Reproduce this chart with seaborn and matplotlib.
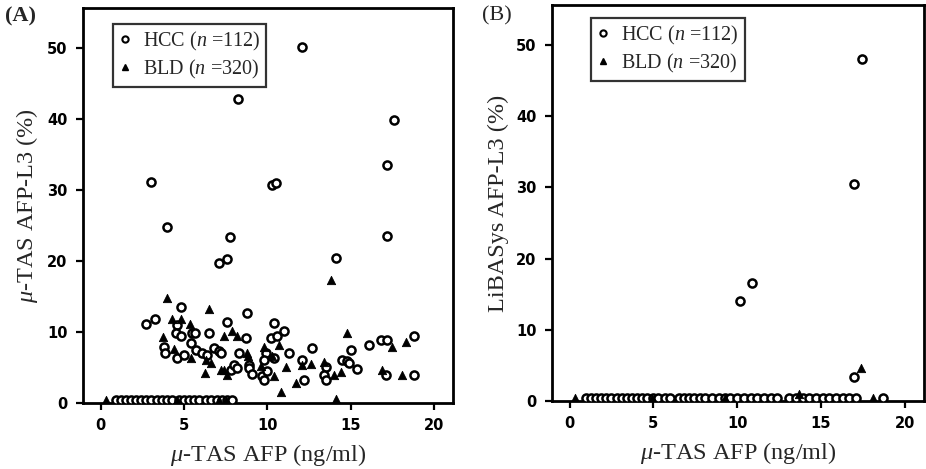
import numpy as np
import pandas as pd
import matplotlib
matplotlib.use("Agg")
import matplotlib.pyplot as plt
import seaborn as sns
from matplotlib.lines import Line2D

# ---------------- data ----------------
# Panel A: mu-TAS AFP (x) vs mu-TAS AFP-L3 (y)
a_hcc_x = [3.0, 3.96, 7.75, 8.25, 10.3, 10.5, 12.1, 17.2, 17.6, 17.2,
           7.1, 7.57, 14.1, 4.8, 8.8, 2.7, 3.25, 4.57, 4.5, 4.8, 5.47, 5.67,
           6.5, 7.6, 8.7, 3.8, 3.87, 4.6, 5.0, 5.4, 5.7, 6.1, 6.4, 6.8, 7.1,
           7.2, 7.8, 8.0, 8.3, 8.2, 8.9, 8.9, 9.1, 9.9, 9.8, 9.7, 9.8, 10.0,
           10.2, 10.4, 10.6, 10.4, 11.0, 11.3, 12.2, 12.1, 12.7, 13.5, 13.4,
           13.5, 14.5, 14.8, 14.9, 15.0, 15.4, 16.1, 17.1, 16.8, 17.2, 18.8,
           18.8,
           0.9, 1.2, 1.5, 1.8, 2.1, 2.4, 2.7, 3.0, 3.4, 3.7, 4.0, 4.3, 4.7,
           5.0, 5.3, 5.6, 5.9, 6.3, 6.6, 7.0, 7.3, 7.6, 7.9]
a_hcc_y = [31.1, 24.8, 23.4, 42.8, 30.7, 31.0, 50.1, 33.5, 39.9, 23.5,
           19.7, 20.3, 20.4, 13.5, 12.7, 11.1, 11.8, 11.0, 9.8, 9.5, 9.8, 9.8,
           9.8, 11.4, 9.1, 7.9, 7.0, 6.4, 6.8, 8.4, 7.5, 7.1, 6.8, 7.7, 7.3,
           7.0, 4.7, 5.4, 7.0, 4.9, 5.4, 4.9, 4.1, 7.0, 6.1, 3.8, 3.3, 4.5,
           9.1, 11.3, 9.5, 6.4, 10.2, 7.0, 3.3, 6.1, 7.7, 5.1, 3.9,
           3.2, 6.1, 5.9, 5.6, 7.5, 4.8, 8.2, 3.9, 8.8, 8.8, 3.9,
           9.5,
           0.4, 0.4, 0.4, 0.4, 0.4, 0.4, 0.4, 0.4, 0.4, 0.4, 0.4, 0.4, 0.4,
           0.4, 0.4, 0.4, 0.4, 0.4, 0.4, 0.4, 0.4, 0.4, 0.4]
a_bld_x = [13.8, 4.0, 6.5, 4.3, 4.8, 5.37, 7.4, 7.9, 8.2, 3.77, 4.4, 5.4,
           6.3, 6.6, 6.25, 7.2, 7.6, 8.8, 8.85, 9.6, 9.8, 10.3, 10.7, 10.8,
           10.4, 11.1, 11.7, 12.1, 12.6, 13.4, 14.0, 14.1, 14.4, 14.8, 16.9,
           17.5, 18.3, 18.1, 7.4, 0.3, 4.6, 7.1, 7.5]
a_bld_y = [17.3, 14.8, 13.2, 11.8, 11.8, 11.1, 9.5, 10.2, 9.5, 9.3, 7.6, 6.4,
           6.1, 5.6, 4.2, 4.7, 3.9, 7.0, 6.6, 5.2, 7.9, 6.6, 8.2, 1.6,
           3.8, 5.0, 2.8, 5.4, 5.5, 5.8, 3.9, 0.6, 4.4, 9.8, 4.7,
           7.9, 8.6, 4.0, 4.6, 0.4, 0.4, 0.4, 0.4]

# Panel B: mu-TAS AFP (x) vs LiBASys AFP-L3 (y)
b_hcc_x = [17.45, 17.0, 10.15, 10.9, 17.0,
           1.0, 1.3, 1.6, 1.9, 2.2, 2.5, 2.8, 3.1, 3.4, 3.7, 4.0, 4.3, 4.6,
           5.0, 5.3, 5.7, 6.0, 6.5, 6.8, 7.1, 7.4, 7.8, 8.1, 8.5, 8.9, 9.3,
           9.6, 10.0, 10.4, 10.8, 11.2, 11.6, 12.0, 12.4, 13.1, 13.5, 13.9,
           14.3, 14.7, 15.1, 15.5, 15.9, 16.3, 16.7, 17.1, 18.7]
b_hcc_y = [48.0, 30.5, 14.0, 16.5, 3.4] + [0.4] * 46
b_bld_x = [17.4, 0.3, 4.9, 9.3, 13.7, 18.1]
b_bld_y = [4.6, 0.4, 0.4, 0.4, 1.0, 0.4]

x_ticks = [0, 5, 10, 15, 20]
y_ticks = [0, 10, 20, 30, 40, 50]
legend_labels = [r"HCC ($\it{n}$ =112)", r"BLD ($\it{n}$ =320)"]
panel_titles = ["(A)", "(B)"]
y_labels = [r"$\mu$-TAS AFP-L3 (%)", "LiBASys AFP-L3 (%)"]
x_label = r"$\mu$-TAS AFP (ng/ml)"

# ---------------- plotting ----------------
sns.set_style("white")
plt.rcParams["font.family"] = ["Liberation Serif", "DejaVu Serif"]
plt.rcParams["mathtext.fontset"] = "custom"
plt.rcParams["mathtext.rm"] = "Liberation Serif"
plt.rcParams["mathtext.it"] = "Liberation Serif:italic"

fig = plt.figure(figsize=(9.26, 4.69), dpi=100)
ax_a = fig.add_axes([83 / 926, 1 - 403 / 469, 370 / 926, 395 / 469])
ax_b = fig.add_axes([552 / 926, 1 - 401 / 469, 372 / 926, 396 / 469])

panels = [
    (ax_a, a_hcc_x, a_hcc_y, a_bld_x, a_bld_y),
    (ax_b, b_hcc_x, b_hcc_y, b_bld_x, b_bld_y),
]

for i, (ax, hx, hy, bx, by) in enumerate(panels):
    df_h = pd.DataFrame({"x": hx, "y": hy})
    df_b = pd.DataFrame({"x": bx, "y": by})
    sns.scatterplot(data=df_h, x="x", y="y", ax=ax, marker="o", s=34,
                    facecolor="white", edgecolor="black", linewidth=1.8,
                    zorder=3)
    sns.scatterplot(data=df_b, x="x", y="y", ax=ax, marker="^", s=36,
                    color="black", edgecolor="black", linewidth=0.6, zorder=3)
    ax.set_xlim(-1.05, 21.15)
    ax.set_ylim(0, 55.6)
    ax.set_xticks(x_ticks)
    ax.set_yticks(y_ticks)
    ax.set_xticklabels([str(t) for t in x_ticks], fontfamily="DejaVu Sans",
                       fontweight="bold", fontsize=10.5)
    ax.set_yticklabels([str(t) for t in y_ticks], fontfamily="DejaVu Sans",
                       fontweight="bold", fontsize=10.5)
    ax.tick_params(direction="out", length=5, width=1.6, colors="black",
                   pad=6, bottom=True, left=True)
    for sp in ax.spines.values():
        sp.set_visible(True)
        sp.set_color("black")
        sp.set_linewidth(2.0)
    ax.set_xlabel(x_label, fontsize=17.5, labelpad=6)
    ax.set_ylabel(y_labels[i], fontsize=17.5, labelpad=5)

    handles = [
        Line2D([], [], linestyle="none", marker="o", markersize=4.5,
               markerfacecolor="white", markeredgecolor="black",
               markeredgewidth=1.5),
        Line2D([], [], linestyle="none", marker="^", markersize=5,
               color="black"),
    ]
    leg = ax.legend(handles, legend_labels, loc="upper left",
                    bbox_to_anchor=(0.08, 0.96) if i == 0 else (0.105, 0.968),
                    fontsize=14.5, frameon=True, fancybox=False,
                    handlelength=0.6, handletextpad=0.6, borderpad=0.3,
                    labelspacing=0.25, borderaxespad=0)
    leg.get_frame().set_edgecolor("black")
    leg.get_frame().set_linewidth(1.6)

fig.text(5 / 926, 1 - 16 / 469, panel_titles[0], fontsize=16,
         fontweight="bold", va="center", ha="left")
fig.text(482 / 926, 1 - 16 / 469, panel_titles[1], fontsize=16,
         va="center", ha="left")

fig.savefig("out.png", dpi=100)
